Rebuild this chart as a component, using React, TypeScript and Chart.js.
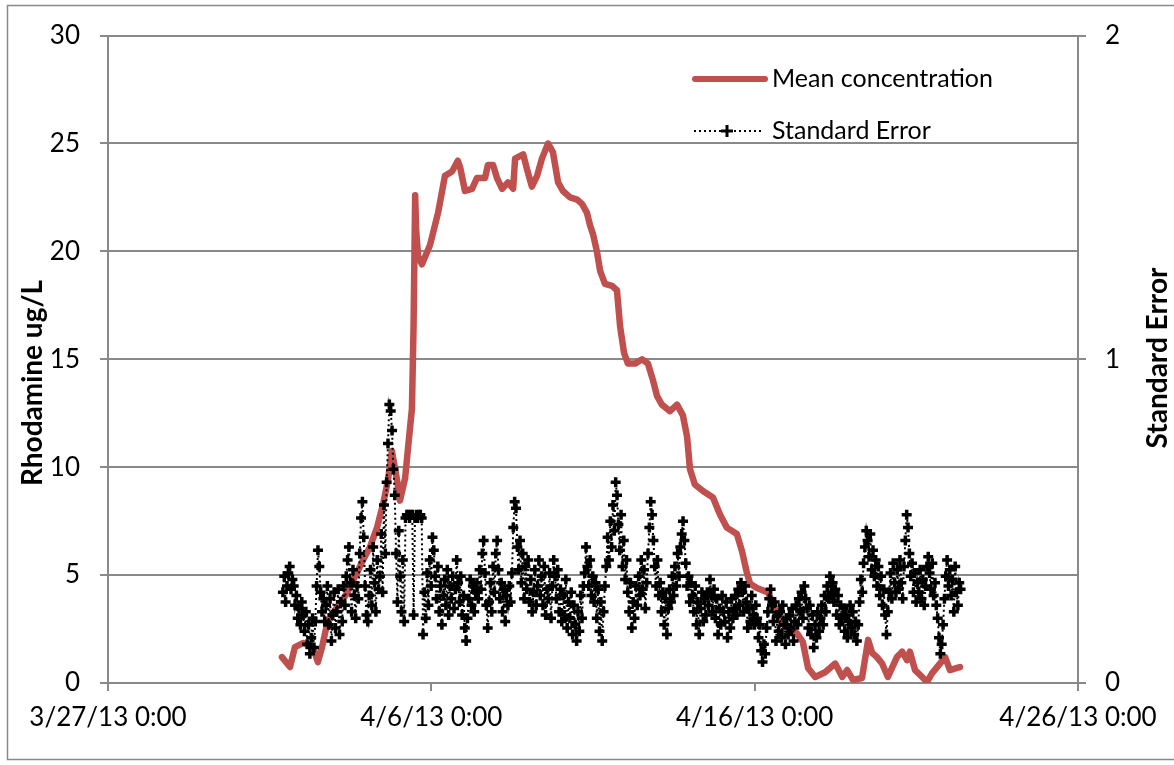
import React, { useEffect, useRef } from "react";
import { Chart, registerables } from "chart.js";

Chart.register(...registerables);

// x values are days since 3/27/13 0:00
const xTickLabels = ["3/27/13 0:00", "4/6/13 0:00", "4/16/13 0:00", "4/26/13 0:00"];
const leftTickLabels = ["0", "5", "10", "15", "20", "25", "30"];
const rightTickLabels = ["0", "1", "2"];

const meanDays = [
  5.38, 5.63, 5.78, 6.03, 6.34, 6.49, 6.62, 6.8, 7.08, 7.39, 7.58, 7.89, 8.1, 8.32, 8.51, 8.66, 8.78, 8.94,
  9.03, 9.19, 9.28, 9.4, 9.45, 9.5, 9.53, 9.59, 9.71, 9.96, 10.21, 10.42, 10.64, 10.82, 10.89, 11.04, 11.26,
  11.41, 11.66, 11.75, 11.91, 12.03, 12.19, 12.37, 12.53, 12.59, 12.84, 12.96, 13.11, 13.27, 13.42, 13.61,
  13.76, 13.92, 14.07, 14.29, 14.51, 14.66, 14.81, 14.91, 15.0, 15.12, 15.22, 15.37, 15.59, 15.74, 15.84,
  15.96, 16.08, 16.3, 16.52, 16.7, 16.86, 16.98, 17.13, 17.38, 17.6, 17.78, 17.91, 18.0, 18.15, 18.4, 18.71,
  18.93, 19.14, 19.45, 19.61, 19.76, 19.86, 20.07, 20.41, 20.57, 20.78, 21.03, 21.31, 21.49, 21.65, 21.87,
  22.18, 22.49, 22.71, 22.86, 23.04, 23.32, 23.51, 23.63, 23.78, 23.94, 24.12, 24.4, 24.56, 24.71, 24.8,
  24.96, 25.18, 25.33, 25.49, 25.73, 25.89, 26.04, 26.26, 26.35,
];
const meanValues = [
  1.2, 0.74, 1.66, 1.85, 1.66, 0.97, 1.66, 2.9, 3.5, 4.15, 4.75, 5.7, 6.3, 7.2, 8.3, 9.4, 10.75, 9.4,
  8.45, 9.5, 10.9, 12.7, 16.5, 22.6, 21.0, 19.8, 19.4, 20.3, 21.8, 23.5, 23.7, 24.2, 23.9, 22.8, 22.9,
  23.4, 23.4, 24.0, 24.0, 23.4, 22.9, 23.2, 22.9, 24.3, 24.5, 23.8, 23.0, 23.5, 24.3, 25.0,
  24.6, 23.2, 22.8, 22.5, 22.4, 22.2, 21.8, 21.2, 20.8, 20.0, 19.1, 18.5, 18.4, 18.2, 16.5,
  15.3, 14.8, 14.8, 15.0, 14.8, 14.0, 13.3, 12.9, 12.6, 12.9, 12.4, 11.4, 9.9, 9.2, 8.9, 8.6,
  7.8, 7.2, 6.9, 6.1, 5.1, 4.6, 4.4, 4.2, 3.7, 2.9, 2.5, 2.3, 1.9, 0.7, 0.28,
  0.5, 0.9, 0.28, 0.6, 0.14, 0.23, 2.0, 1.4, 1.2, 0.9, 0.28, 1.2, 1.45, 1.06, 1.45,
  0.6, 0.28, 0.05, 0.46, 0.9, 1.2, 0.6, 0.7, 0.74,
];

// Standard error: hourly readings starting 4/1/13 ~10:00
const seStartDay = 5.41;
const seStepDays = 1 / 24;
const seValues = [
  0.28, 0.33, 0.25, 0.3, 0.34, 0.36, 0.29, 0.32,
  0.3, 0.24, 0.27, 0.2, 0.23, 0.18, 0.25, 0.21,
  0.16, 0.22, 0.12, 0.18, 0.09, 0.14, 0.2, 0.11,
  0.19, 0.3, 0.41, 0.36, 0.28, 0.22, 0.26, 0.19,
  0.24, 0.3, 0.18, 0.26, 0.13, 0.21, 0.28, 0.17,
  0.22, 0.29, 0.15, 0.25, 0.19, 0.3, 0.24, 0.33,
  0.38, 0.42, 0.31, 0.22, 0.35, 0.27, 0.2, 0.3,
  0.26, 0.4, 0.51, 0.56, 0.45, 0.3, 0.21, 0.19,
  0.27, 0.35, 0.24, 0.42, 0.31, 0.22, 0.38, 0.29,
  0.33, 0.46, 0.28, 0.55, 0.4, 0.62, 0.74, 0.86,
  0.84, 0.78, 0.66, 0.58, 0.4, 0.25, 0.47, 0.33,
  0.22, 0.38, 0.19, 0.51, 0.52, 0.52, 0.51, 0.52,
  0.52, 0.21, 0.51, 0.52, 0.51, 0.52, 0.52, 0.51,
  0.15, 0.28, 0.2, 0.34, 0.24, 0.38, 0.3, 0.45,
  0.41, 0.33, 0.26, 0.36, 0.22, 0.3, 0.18, 0.27,
  0.32, 0.24, 0.35, 0.21, 0.3, 0.26, 0.33, 0.23,
  0.29, 0.38, 0.31, 0.25, 0.33, 0.21, 0.27, 0.17,
  0.13, 0.2, 0.26, 0.32, 0.24, 0.3, 0.22, 0.28,
  0.31, 0.26, 0.35, 0.29, 0.4, 0.44, 0.34, 0.24,
  0.17, 0.25, 0.31, 0.22, 0.36, 0.28, 0.4, 0.44,
  0.35, 0.26, 0.31, 0.22, 0.29, 0.19, 0.27, 0.24,
  0.3, 0.25, 0.34, 0.48, 0.56, 0.54, 0.42, 0.35,
  0.44, 0.31, 0.4, 0.26, 0.36, 0.29, 0.38, 0.25,
  0.32, 0.22, 0.28, 0.35, 0.24, 0.3, 0.38, 0.27,
  0.33, 0.24, 0.36, 0.21, 0.29, 0.26, 0.34, 0.2,
  0.3, 0.38, 0.33, 0.26, 0.35, 0.22, 0.29, 0.19,
  0.27, 0.21, 0.32, 0.17, 0.25, 0.2, 0.28, 0.15,
  0.24, 0.18, 0.13, 0.22, 0.16, 0.27, 0.2, 0.3,
  0.34, 0.42, 0.36, 0.3, 0.38, 0.27, 0.33, 0.25,
  0.31, 0.2, 0.29, 0.16, 0.25, 0.13, 0.22, 0.3,
  0.36, 0.45, 0.38, 0.5, 0.42, 0.55, 0.47, 0.62,
  0.58, 0.49, 0.41, 0.52, 0.36, 0.44, 0.32, 0.38,
  0.28, 0.22, 0.31, 0.17, 0.25, 0.2, 0.3, 0.24,
  0.33, 0.27, 0.38, 0.29, 0.35, 0.23, 0.31, 0.4,
  0.48, 0.56, 0.52, 0.44, 0.36, 0.3, 0.38, 0.27,
  0.31, 0.22, 0.28, 0.18, 0.26, 0.15, 0.23, 0.29,
  0.25, 0.33, 0.27, 0.36, 0.3, 0.4, 0.33, 0.42,
  0.46, 0.5, 0.44, 0.37, 0.3, 0.33, 0.25, 0.31,
  0.27, 0.22, 0.3, 0.18, 0.25, 0.15, 0.23, 0.28,
  0.19, 0.26, 0.21, 0.28, 0.24, 0.32, 0.27, 0.22,
  0.29, 0.2, 0.26, 0.15, 0.23, 0.18, 0.27, 0.22,
  0.19, 0.25, 0.14, 0.22, 0.17, 0.26, 0.2, 0.23,
  0.27, 0.21, 0.29, 0.24, 0.31, 0.28, 0.22, 0.3,
  0.25, 0.17, 0.23, 0.19, 0.27, 0.21, 0.18, 0.24,
  0.2, 0.14, 0.18, 0.1, 0.065, 0.12, 0.09, 0.17,
  0.22, 0.26, 0.29, 0.24, 0.19, 0.25, 0.13, 0.21,
  0.16, 0.22, 0.14, 0.24, 0.18, 0.12, 0.2, 0.15,
  0.21, 0.17, 0.23, 0.13, 0.19, 0.24, 0.18, 0.26,
  0.22, 0.28, 0.2, 0.3, 0.26, 0.23, 0.17, 0.24,
  0.15, 0.21, 0.11, 0.18, 0.14, 0.22, 0.16, 0.2,
  0.24, 0.18, 0.27, 0.22, 0.3, 0.26, 0.33, 0.28,
  0.31, 0.25, 0.29, 0.21, 0.27, 0.18, 0.24, 0.2,
  0.23, 0.16, 0.21, 0.14, 0.19, 0.24, 0.17, 0.22,
  0.15, 0.19, 0.13, 0.18, 0.25, 0.32, 0.28, 0.37,
  0.42, 0.47, 0.44, 0.39, 0.46, 0.35, 0.41, 0.33,
  0.38, 0.3, 0.36, 0.27, 0.33, 0.24, 0.29, 0.21,
  0.15, 0.22, 0.28, 0.34, 0.26, 0.37, 0.31, 0.28,
  0.35, 0.29, 0.38, 0.31, 0.26, 0.36, 0.44, 0.52,
  0.48, 0.4, 0.33, 0.37, 0.28, 0.34, 0.25, 0.31,
  0.28, 0.35, 0.26, 0.32, 0.24, 0.3, 0.36, 0.39,
  0.34, 0.29, 0.37, 0.27, 0.31, 0.24, 0.2, 0.14,
  0.09, 0.12, 0.18, 0.26, 0.33, 0.38, 0.3, 0.35,
  0.27, 0.32, 0.22, 0.36, 0.28, 0.24, 0.31, 0.29,
];

const FONT = "Lato, 'Open Sans', sans-serif";
const GRAY = "#898989";
const RED = "#C0504D";

const decorPlugin = {
  id: "decor",
  afterDraw(chart: any) {
    const ctx = chart.ctx;
    ctx.save();
    // outer frame
    ctx.strokeStyle = GRAY;
    ctx.lineWidth = 1.5;
    ctx.strokeRect(7.5, 5.5, 1200, 754);

    // axis titles
    ctx.fillStyle = "#000";
    ctx.font = `bold 28px ${FONT}`;
    ctx.textAlign = "center";
    ctx.textBaseline = "middle";
    ctx.save();
    ctx.translate(33, 383);
    ctx.rotate(-Math.PI / 2);
    ctx.fillText("Rhodamine ug/L", 0, 0);
    ctx.restore();
    ctx.save();
    ctx.translate(1158, 358);
    ctx.rotate(-Math.PI / 2);
    ctx.fillText("Standard Error", 0, 0);
    ctx.restore();

    // legend
    ctx.lineCap = "round";
    ctx.strokeStyle = RED;
    ctx.lineWidth = 6;
    ctx.beginPath();
    ctx.moveTo(695, 79);
    ctx.lineTo(765, 79);
    ctx.stroke();

    ctx.lineCap = "butt";
    ctx.strokeStyle = "#000";
    ctx.lineWidth = 2;
    ctx.setLineDash([2, 3]);
    ctx.beginPath();
    ctx.moveTo(694, 131);
    ctx.lineTo(762, 131);
    ctx.stroke();
    ctx.setLineDash([]);
    ctx.lineWidth = 3;
    ctx.beginPath();
    ctx.moveTo(721, 131);
    ctx.lineTo(733, 131);
    ctx.moveTo(727, 125);
    ctx.lineTo(727, 137);
    ctx.stroke();

    ctx.font = `25px ${FONT}`;
    ctx.textAlign = "left";
    ctx.fillStyle = "#000";
    ctx.fillText("Mean concentration", 772, 79);
    ctx.fillText("Standard Error", 772, 131);
    ctx.restore();
  },
};

export default function App() {
  const ref = useRef<HTMLCanvasElement>(null);

  useEffect(() => {
    document.body.style.margin = "0";
    const canvas = ref.current!;
    const meanData = meanDays.map((d, i) => ({ x: d, y: meanValues[i] }));
    const seData = seValues.map((v, i) => ({ x: seStartDay + i * seStepDays, y: v }));

    const chart = new Chart(canvas, {
      type: "line",
      data: {
        datasets: [
          {
            label: "Standard Error",
            data: seData,
            yAxisID: "y2",
            borderColor: "#000",
            borderWidth: 2,
            borderDash: [2, 3],
            pointStyle: "cross",
            pointRadius: 5,
            pointBorderWidth: 3.5,
            pointBorderColor: "#000",
            pointBackgroundColor: "#000",
            tension: 0,
            order: 1,
          },
          {
            label: "Mean concentration",
            data: meanData,
            yAxisID: "y",
            borderColor: RED,
            borderWidth: 6.5,
            pointRadius: 0,
            borderCapStyle: "round",
            borderJoinStyle: "round",
            tension: 0,
            order: 2,
          },
        ],
      },
      options: {
        responsive: false,
        animation: false,
        devicePixelRatio: 1,
        layout: { padding: { top: 33, left: 0, right: 0, bottom: 0 } },
        plugins: { legend: { display: false }, tooltip: { enabled: false } },
        scales: {
          x: {
            type: "linear",
            position: "bottom",
            min: 0,
            max: 30,
            afterFit: (s: any) => {
              s.height = 82;
            },
            afterBuildTicks: (s: any) => {
              s.ticks = xTickLabels.map((_, i) => ({ value: i * 10 }));
            },
            ticks: {
              callback: (_v: any, i: number) => xTickLabels[i],
              font: { family: FONT, size: 26 },
              color: "#000",
              padding: 11,
              maxRotation: 0,
              autoSkip: false,
            },
            grid: { drawOnChartArea: false, color: GRAY, lineWidth: 2, tickLength: 8 },
            border: { color: GRAY, width: 2 },
          },
          y: {
            position: "left",
            min: 0,
            max: 30,
            afterFit: (s: any) => {
              s.width = 108;
            },
            afterBuildTicks: (s: any) => {
              s.ticks = leftTickLabels.map((t) => ({ value: Number(t) }));
            },
            ticks: {
              callback: (_v: any, i: number) => leftTickLabels[i],
              font: { family: FONT, size: 26 },
              color: "#000",
              padding: 20,
            },
            grid: { color: GRAY, lineWidth: 2, tickLength: 8 },
            border: { color: GRAY, width: 2 },
          },
          y2: {
            position: "right",
            min: 0,
            max: 2,
            afterFit: (s: any) => {
              s.width = 96;
            },
            afterBuildTicks: (s: any) => {
              s.ticks = rightTickLabels.map((t) => ({ value: Number(t) }));
            },
            ticks: {
              callback: (_v: any, i: number) => rightTickLabels[i],
              font: { family: FONT, size: 26 },
              color: "#000",
              padding: 19,
            },
            grid: { drawOnChartArea: false, color: GRAY, lineWidth: 2, tickLength: 8 },
            border: { color: GRAY, width: 2 },
          },
        },
      },
      plugins: [decorPlugin],
    });
    return () => chart.destroy();
  }, []);

  return (
    <div style={{ width: 1174, height: 765, position: "relative", background: "#fff" }}>
      <canvas ref={ref} width={1174} height={765} style={{ display: "block" }} />
    </div>
  );
}
